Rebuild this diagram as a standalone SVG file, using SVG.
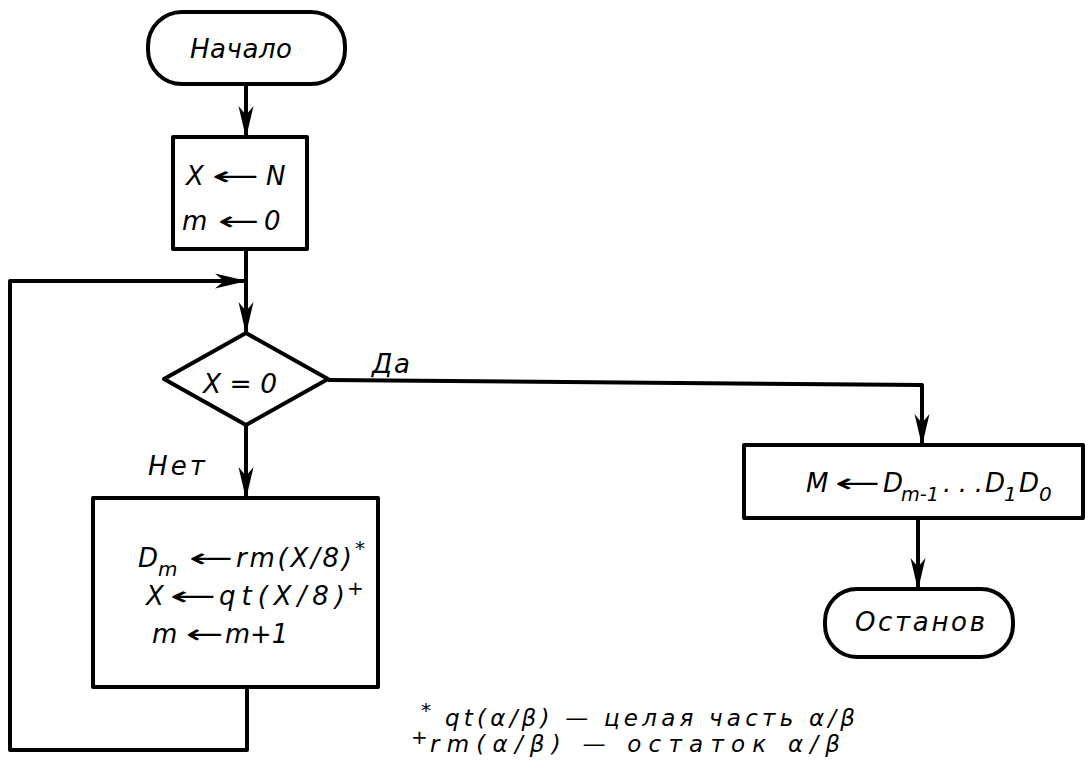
<svg xmlns="http://www.w3.org/2000/svg" width="1091" height="783" viewBox="0 0 1091 783">
<style>
.s{fill:none;stroke:#000;stroke-width:4;stroke-linejoin:round}
.t{font-family:"DejaVu Sans","Liberation Sans",sans-serif;font-style:italic;font-size:26px;fill:#000}
.sub{font-size:20px}
.fn{font-size:23px}
.ar{font-family:"DejaVu Sans",sans-serif;font-style:normal}
</style>
<defs>
<marker id="arr" viewBox="0 0 32 16" refX="31" refY="8" markerWidth="32" markerHeight="16" orient="auto" markerUnits="userSpaceOnUse">
<path d="M0,0.5 L32,8 L0,15.5 L9,8 Z" fill="#000"/>
</marker>
</defs>
<rect width="1091" height="783" fill="#fff"/>
<g id="connectors">
<path class="s" d="M246,84 V137" marker-end="url(#arr)"/>
<path class="s" d="M246,249 V333" marker-end="url(#arr)"/>
<path class="s" d="M246,425 V498" marker-end="url(#arr)"/>
<path class="s" d="M247,687 V750 H10 V281 H246" marker-end="url(#arr)"/>
<path class="s" d="M328,380 L922,385 V445" marker-end="url(#arr)"/>
<path class="s" d="M918,518 V589" marker-end="url(#arr)"/>
</g>
<g id="start">
<rect class="s" x="148" y="12" width="197" height="72" rx="34"/>
<text class="t" x="190" y="58" textLength="102" lengthAdjust="spacing">Начало</text>
</g>
<g id="init">
<rect class="s" x="173" y="137" width="134" height="112"/>
<text class="t"><tspan x="186" y="185">X</tspan><tspan class="ar" x="212" y="185" textLength="48" lengthAdjust="spacingAndGlyphs">←</tspan><tspan x="266" y="185">N</tspan></text>
<text class="t"><tspan x="182" y="230">m</tspan><tspan class="ar" x="218" y="230" textLength="42" lengthAdjust="spacingAndGlyphs">←</tspan><tspan x="264" y="230">0</tspan></text>
</g>
<g id="decision">
<polygon class="s" points="246,333 328,379 246,425 164,379"/>
<text class="t" x="203" y="393" textLength="74" lengthAdjust="spacingAndGlyphs">X = 0</text>
</g>
<text class="t" x="372" y="373" textLength="38" lengthAdjust="spacing">Да</text>
<text class="t" x="148" y="475" textLength="57" lengthAdjust="spacing">Нет</text>
<g id="loop-body">
<rect class="s" x="93" y="498" width="285" height="189"/>
<text class="t"><tspan x="138" y="567">D</tspan><tspan class="sub" x="158" y="576">m</tspan><tspan class="ar" x="189" y="567" textLength="45" lengthAdjust="spacingAndGlyphs">←</tspan><tspan x="236" y="567" textLength="116" lengthAdjust="spacing">rm(X/8)</tspan><tspan x="355" y="555" class="sub">*</tspan></text>
<text class="t"><tspan x="146" y="605">X</tspan><tspan class="ar" x="170" y="605" textLength="47" lengthAdjust="spacingAndGlyphs">←</tspan><tspan x="219" y="605" textLength="126" lengthAdjust="spacing">qt(X/8)</tspan><tspan x="347" y="595" class="sub">+</tspan></text>
<text class="t"><tspan x="152" y="643">m</tspan><tspan class="ar" x="186" y="643" textLength="38" lengthAdjust="spacingAndGlyphs">←</tspan><tspan x="225" y="643" textLength="63" lengthAdjust="spacingAndGlyphs">m+1</tspan></text>
</g>
<g id="result">
<rect class="s" x="744" y="445" width="339" height="73"/>
<text class="t"><tspan x="806" y="492">M</tspan><tspan class="ar" x="835" y="492" textLength="46" lengthAdjust="spacingAndGlyphs">←</tspan><tspan x="883" y="492">D</tspan><tspan class="sub" x="901" y="501" textLength="38" lengthAdjust="spacingAndGlyphs">m-1</tspan><tspan x="943" y="492" textLength="40" lengthAdjust="spacing">...</tspan><tspan x="985" y="492">D</tspan><tspan class="sub" x="1004" y="501">1</tspan><tspan x="1019" y="492">D</tspan><tspan class="sub" x="1039" y="501">0</tspan></text>
</g>
<g id="stop">
<rect class="s" x="825" y="589" width="188" height="68" rx="32"/>
<text class="t" x="855" y="631" textLength="130" lengthAdjust="spacing">Останов</text>
</g>
<g id="notes">
<text class="t fn"><tspan x="421" y="717" class="sub">*</tspan><tspan x="445" y="726" textLength="410" lengthAdjust="spacing">qt(α/β) — целая часть α/β</tspan></text>
<text class="t fn"><tspan x="411" y="744" class="sub">+</tspan><tspan x="430" y="752" textLength="410" lengthAdjust="spacing">rm(α/β) — остаток α/β</tspan></text>
</g>
</svg>
